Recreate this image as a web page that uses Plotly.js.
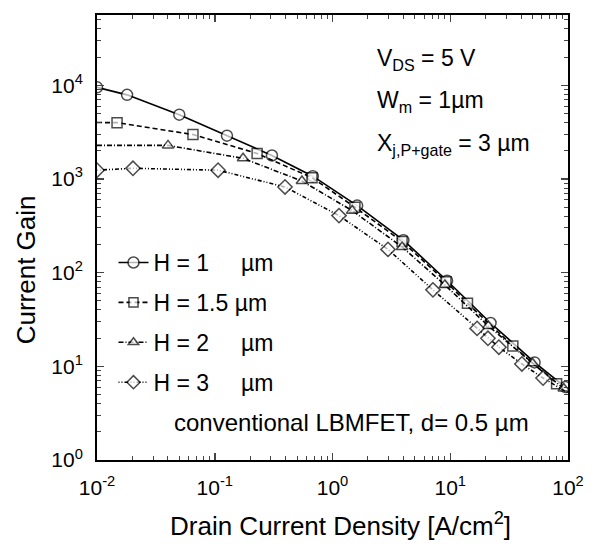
<!DOCTYPE html>
<html>
<head>
<meta charset="utf-8">
<script src="https://cdn.plot.ly/plotly-3.0.1.min.js"></script>
<style>html,body{margin:0;padding:0;background:#fff;}#chart{width:603px;height:547px;}</style>
</head>
<body>
<div id="chart"></div>
<script>
// ---- data ----
const seriesNames = ["H = 1\u00a0\u00a0\u00a0\u00a0\u00a0\u00b5m", "H = 1.5 \u00b5m", "H = 2\u00a0\u00a0\u00a0\u00a0\u00a0\u00b5m", "H = 3\u00a0\u00a0\u00a0\u00a0\u00a0\u00b5m"];

const h1_x = [0.01, 0.018, 0.05, 0.127, 0.306, 0.68, 1.62, 4.0, 9.4, 22, 52, 95];
const h1_y = [9500, 7900, 4850, 2900, 1780, 1070, 520, 222, 82, 29, 11, 6];

const h15_x = [0.01, 0.0148, 0.0653, 0.229, 0.67, 1.55, 3.9, 9.2, 14, 34, 80];
const h15_y = [4000, 3990, 2980, 1870, 1030, 500, 215, 80, 47, 16.5, 6.5];

const h2_x = [0.01, 0.0401, 0.174, 0.55, 1.47, 3.9, 9.0, 21, 50, 92];
const h2_y = [2280, 2280, 1660, 950, 459, 188, 74, 27, 10.8, 5.8];

const h3_x = [0.01, 0.0202, 0.1067, 0.395, 1.135, 2.96, 7.13, 16.9, 20.9, 25.9, 40.6, 61.4, 100];
const h3_y = [1240, 1300, 1240, 821, 406, 177, 65.5, 25.4, 19.9, 16.0, 10.6, 7.5, 5.2];

const xTickVals = [0.01, 0.1, 1, 10, 100];
const xTickText = ["10<sup>-2</sup>", "10<sup>-1</sup>", "10<sup>0</sup>", "10<sup>1</sup>", "10<sup>2</sup>"];
const yTickVals = [1, 10, 100, 1000, 10000];
const yTickText = ["10<sup>0</sup>", "10<sup>1</sup>", "10<sup>2</sup>", "10<sup>3</sup>", "10<sup>4</sup>"];

// ---- styling ----
const FONT = "Liberation Sans, Arial, sans-serif";
function sizes(n, hiddenFirst, hiddenLast, s) {
  return Array.from({length: n}, (_, i) => ((hiddenFirst && i === 0) || (hiddenLast && i === n - 1)) ? 0 : s);
}
function mk(name, x, y, dash, symbol, sz, grp) {
  return {
    x: x, y: y, name: name, type: 'scatter', mode: 'lines+markers',
    legendgroup: grp, cliponaxis: true,
    line: {color: '#000', width: 1.6, dash: dash},
    marker: {symbol: symbol, size: sz, color: '#fff', line: {color: '#000', width: 1.5}}
  };
}
const traces = [
  mk(seriesNames[0], h1_x, h1_y, 'solid', 'circle', sizes(h1_x.length, false, false, 11), 'a'),
  mk(seriesNames[1], h15_x, h15_y, '5px,3px', 'square', sizes(h15_x.length, true, false, 10), 'b'),
  mk(seriesNames[2], h2_x, h2_y, '5px,2px,1px,2px', 'triangle-up', sizes(h2_x.length, true, false, 10), 'c'),
  mk(seriesNames[3], h3_x, h3_y, '1px,2px,1px,2px,4px,2px', 'diamond', sizes(h3_x.length, false, true, 11), 'd')
];

const layout = {
  width: 603, height: 547,
  margin: {l: 97, r: 35, t: 15, b: 87},
  paper_bgcolor: '#fff', plot_bgcolor: '#fff',
  font: {family: FONT, color: '#000', size: 20},
  showlegend: true,
  legend: {x: 0.035, y: 0.492, xanchor: 'left', yanchor: 'top', bgcolor: 'rgba(0,0,0,0)',
           font: {size: 23, family: FONT}, tracegroupgap: 7},
  xaxis: {
    type: 'log', range: [-2, 2], tickvals: xTickVals, ticktext: xTickText,
    ticks: 'inside', ticklen: 7, tickwidth: 1.5, showline: true, linewidth: 2, linecolor: '#000',
    mirror: 'ticks', showgrid: false, zeroline: false, ticklabelstandoff: 8,
    tickfont: {size: 21, family: FONT},
    minor: {ticks: 'inside', ticklen: 4, tickwidth: 1, dtick: 'D1', showgrid: false}
  },
  yaxis: {
    type: 'log', range: [0, 4.75], tickvals: yTickVals, ticktext: yTickText,
    ticks: 'inside', ticklen: 7, tickwidth: 1.5, showline: true, linewidth: 2, linecolor: '#000',
    mirror: 'ticks', showgrid: false, zeroline: false, ticklabelstandoff: 8,
    tickfont: {size: 21, family: FONT},
    minor: {ticks: 'inside', ticklen: 4, tickwidth: 1, dtick: 'D1', showgrid: false}
  },
  annotations: [
    {xref: 'paper', yref: 'paper', x: 0.516, y: -0.146, xanchor: 'center', yanchor: 'middle', showarrow: false,
     text: 'Drain Current Density [A/cm<sup>2</sup>]', font: {size: 26, family: FONT}},
    {xref: 'paper', yref: 'paper', x: -0.15, y: 0.427, xanchor: 'center', yanchor: 'middle', showarrow: false,
     textangle: -90, text: 'Current Gain', font: {size: 26, family: FONT}},
    {xref: 'paper', yref: 'paper', x: 0.59, y: 0.90, xanchor: 'left', yanchor: 'middle', showarrow: false,
     text: 'V<sub>DS</sub> = 5 V', font: {size: 23, family: FONT}},
    {xref: 'paper', yref: 'paper', x: 0.59, y: 0.805, xanchor: 'left', yanchor: 'middle', showarrow: false,
     text: 'W<sub>m</sub> = 1\u00b5m', font: {size: 23, family: FONT}},
    {xref: 'paper', yref: 'paper', x: 0.59, y: 0.71, xanchor: 'left', yanchor: 'middle', showarrow: false,
     text: 'X<sub>j,P+gate</sub> = 3 \u00b5m', font: {size: 23, family: FONT}},
    {xref: 'paper', yref: 'paper', x: 0.159, y: 0.085, xanchor: 'left', yanchor: 'middle', showarrow: false,
     text: 'conventional LBMFET, d= 0.5 \u00b5m', font: {size: 24, family: FONT}}
  ]
};

Plotly.newPlot('chart', traces, layout, {displayModeBar: false, staticPlot: true});
</script>
</body>
</html>
